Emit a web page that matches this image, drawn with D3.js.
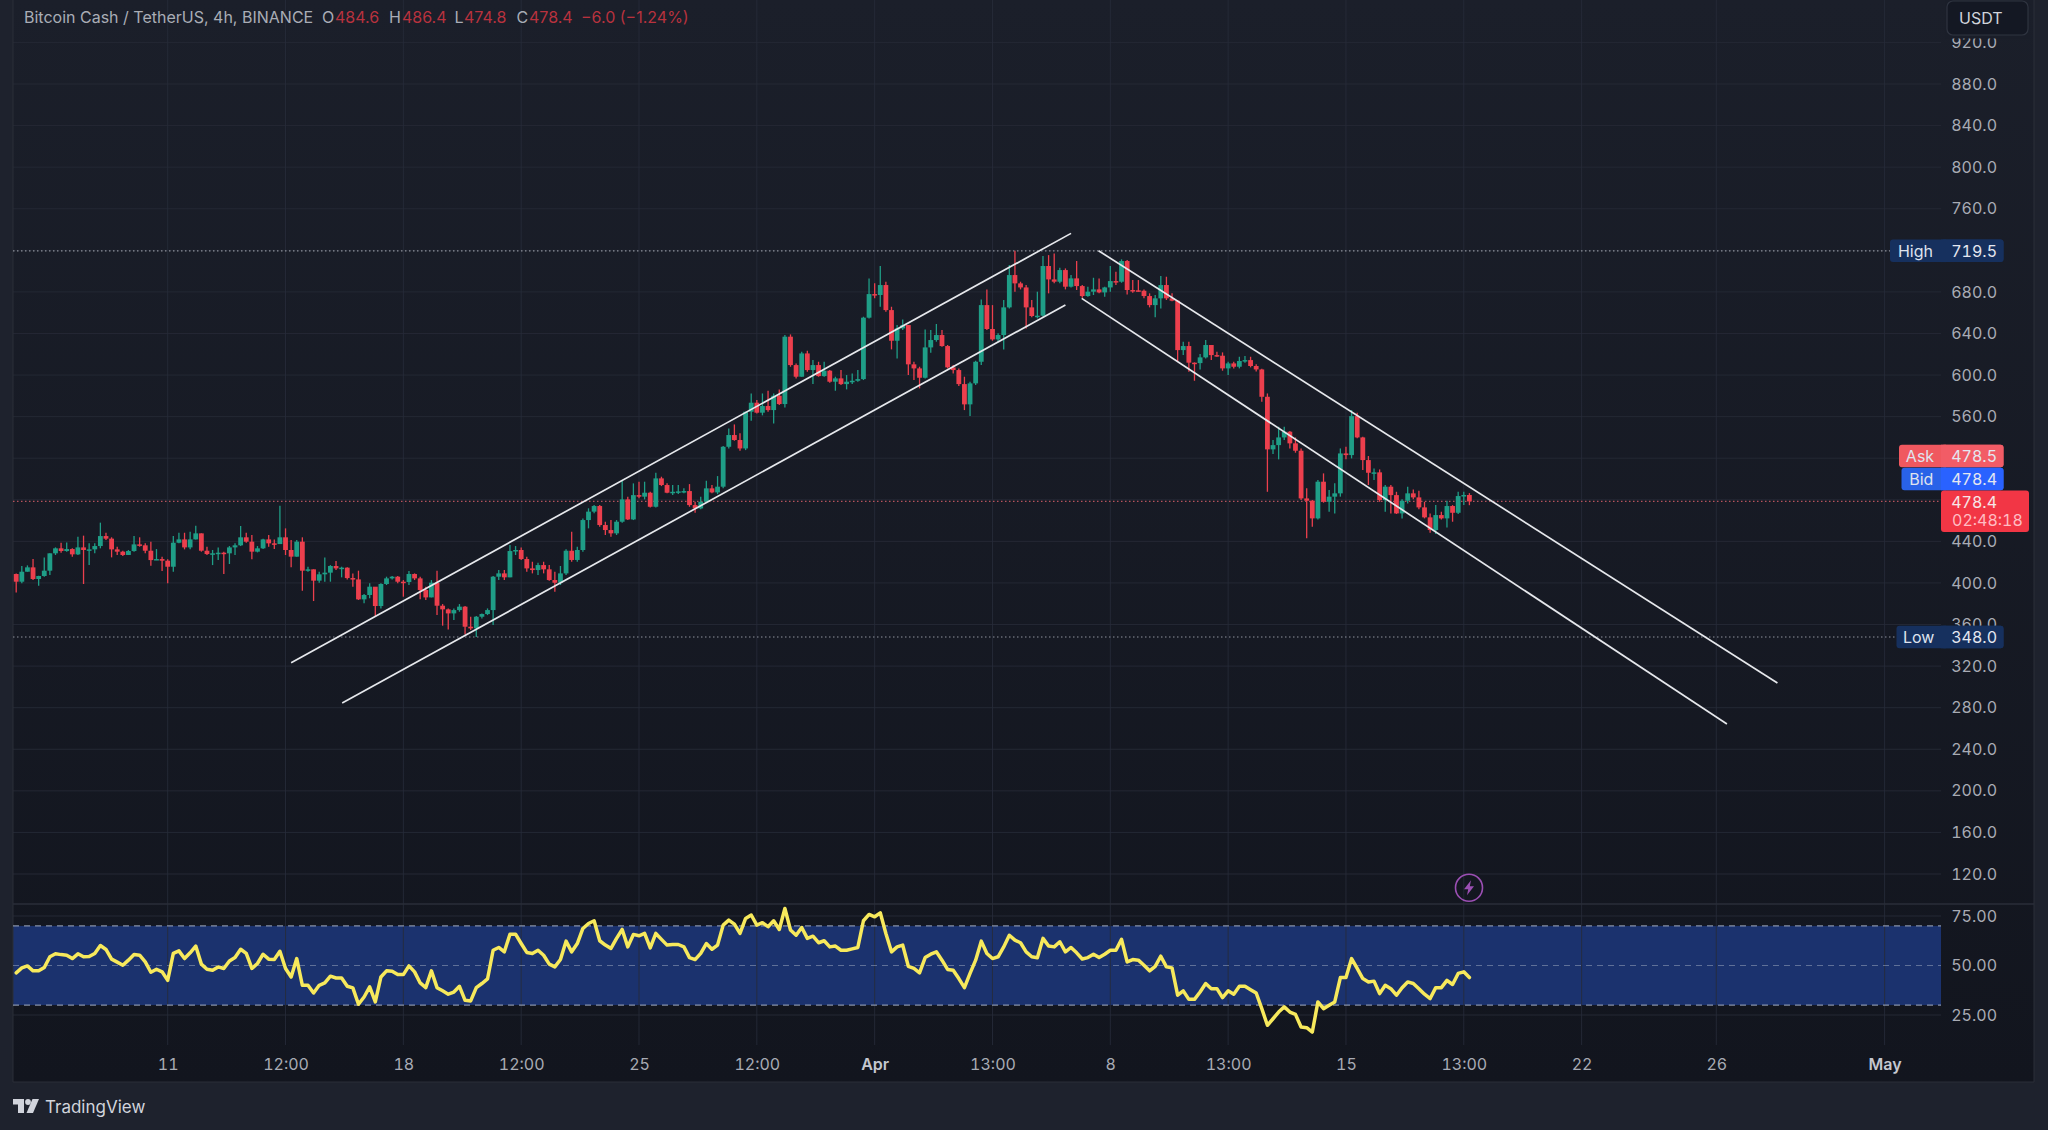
<!DOCTYPE html>
<html>
<head>
<meta charset="utf-8">
<script src="https://cdn.jsdelivr.net/npm/d3@7"></script>
<style>
    html, body { margin: 0; padding: 0; background: #1e222d; }
    svg { display: block; }
    text { font-family: Inter, "Noto Sans", sans-serif; font-variant-numeric: tabular-nums; }
    text.plain { font-variant-numeric: normal; }
</style>
</head>
<body>
<div id="chart"></div>
<script>
// 4h candles, bar 0 opens 2024-03-06 12:00
const firstOpen = 408.6;
const closes = [
    401.2,410.8,415.0,403.8,406.7,411.8,428.5,433.3,430.7,432.6,427.5,434.2,431.7,432.3,435.5,445.1,442.6,432.3,430.1,426.9,
    430.7,437.1,436.2,431.0,422.0,423.0,421.4,415.6,438.7,441.9,434.2,441.9,447.7,431.0,427.8,428.5,429.1,428.5,434.2,436.2,
    443.9,439.7,430.1,433.3,441.9,438.1,437.4,443.9,431.7,425.3,439.7,411.8,413.1,402.2,408.3,409.9,416.3,414.0,414.7,404.7,
    403.4,384.2,388.4,396.4,377.8,399.0,404.4,406.0,401.2,400.9,408.6,404.4,393.2,386.1,400.2,378.1,374.6,370.7,373.9,377.2,
    357.9,356.3,367.5,370.1,373.9,406.0,409.2,405.4,430.7,431.7,423.0,414.0,412.4,417.2,413.1,402.8,400.2,409.2,431.0,422.1,
    431.7,460.5,468.6,474.0,455.7,450.9,447.7,458.9,480.4,461.1,484.5,483.0,486.8,473.3,500.6,494.2,486.8,487.7,488.1,488.4,
    474.9,471.7,478.1,491.0,487.1,492.6,531.0,542.3,537.5,529.4,564.7,573.4,563.8,570.2,566.3,580.1,572.1,636.9,609.6,598.4,
    620.8,604.8,609.6,599.0,604.2,593.6,596.8,591.3,593.6,594.5,596.1,655.2,677.9,677.0,686.6,662.5,633.0,644.9,648.1,610.3,
    606.4,597.4,626.6,633.7,638.5,627.9,607.4,604.8,591.3,571.8,592.0,612.8,667.3,644.3,634.3,638.5,665.1,696.2,688.2,684.3,
    665.1,656.8,657.1,704.9,692.0,689.8,701.0,685.0,693.0,685.6,676.0,680.2,682.4,679.5,684.3,690.4,689.8,709.7,681.8,681.5,
    681.1,676.0,667.3,673.8,686.6,673.8,671.5,624.0,627.9,611.9,611.5,617.0,628.9,619.2,618.6,606.4,611.2,608.0,613.5,614.4,
    608.7,605.4,579.1,528.5,532.6,540.0,545.5,534.3,527.2,481.3,479.1,462.1,497.4,478.1,483.0,486.2,524.6,523.0,560.5,540.0,
    518.2,506.0,506.4,479.7,492.6,484.5,466.9,479.1,486.2,482.3,472.7,463.1,450.9,465.3,462.1,474.0,467.5,483.6,484.6,478.4
];
const highs = [
    409.2,416.3,416.9,423.0,407.0,424.6,428.5,434.2,438.7,439.0,433.3,444.5,445.5,438.1,438.1,458.0,448.3,443.9,434.9,431.0,
    431.7,445.1,443.9,438.1,439.7,432.6,425.3,422.7,445.1,448.3,448.3,449.3,455.1,447.7,434.9,431.7,434.2,430.1,435.5,438.1,
    454.8,448.3,446.1,435.5,442.6,446.1,441.9,474.3,452.5,441.3,441.3,443.9,415.6,413.1,410.8,424.6,417.2,421.1,415.6,415.0,
    409.2,411.8,389.3,399.6,395.8,399.6,406.0,406.7,406.7,402.8,411.5,409.2,406.0,396.4,402.8,411.8,379.7,375.5,375.5,379.7,
    377.8,367.5,368.2,370.7,375.5,406.7,412.4,412.4,436.5,435.5,434.2,425.3,420.4,419.5,420.4,417.2,410.8,416.3,432.3,449.3,
    434.9,462.1,471.8,475.0,475.0,458.9,460.5,460.5,499.0,483.0,495.8,497.4,497.4,487.7,506.0,502.2,495.8,494.2,494.2,491.0,
    495.1,478.1,483.0,498.3,494.2,502.8,531.7,548.7,552.5,543.9,564.7,582.3,575.9,582.3,584.9,582.3,586.2,638.5,639.1,611.2,
    622.4,623.4,614.4,612.8,612.8,604.8,598.4,604.8,600.0,601.6,604.8,656.1,693.0,688.2,704.9,689.8,665.7,648.1,653.5,648.1,
    612.8,608.0,643.9,643.3,649.1,643.3,628.9,609.6,606.4,598.4,593.6,613.8,672.8,682.4,667.3,640.1,672.2,705.8,719.5,689.8,
    686.6,672.2,680.2,714.5,715.4,717.0,703.3,702.6,696.2,709.7,686.6,685.0,693.6,693.0,685.0,704.9,699.4,711.3,710.6,691.4,
    691.4,682.4,678.6,677.0,695.2,694.6,678.6,672.2,632.1,632.1,612.2,620.2,633.7,628.9,622.4,621.8,612.8,612.8,617.6,618.3,
    617.6,610.3,606.1,582.3,537.5,550.3,550.3,546.1,540.0,529.4,491.0,479.7,499.0,505.4,489.4,495.8,529.4,531.0,566.3,563.8,
    540.7,522.1,510.2,509.2,494.2,494.2,487.7,480.4,492.6,490.0,488.7,478.1,466.9,474.9,468.5,479.1,474.9,487.7,487.7,486.4
];
const lows = [
    390.9,399.6,410.8,402.8,397.4,406.0,407.6,426.9,429.1,430.1,425.3,426.9,399.0,417.2,428.5,433.3,441.3,424.6,426.9,425.9,
    426.9,430.1,434.9,428.5,416.6,422.0,411.5,399.6,410.8,438.1,432.3,432.3,441.9,430.1,426.9,417.2,422.0,408.6,418.2,426.9,
    435.5,438.7,422.7,429.4,432.6,434.9,432.6,437.4,426.9,415.0,425.3,392.5,410.8,382.6,400.2,401.2,401.2,412.4,405.4,403.4,
    396.4,383.6,380.4,385.2,368.2,375.5,398.0,403.4,399.6,386.8,398.0,402.8,384.2,383.6,386.1,369.1,358.9,355.3,364.3,372.3,
    350.5,354.7,348.0,365.9,369.1,359.5,402.8,402.8,405.4,426.9,422.1,410.8,409.2,407.6,409.2,402.2,391.6,398.0,407.6,420.4,
    420.4,430.1,452.5,467.0,454.1,446.1,444.5,446.1,457.9,460.5,460.5,481.4,480.4,472.7,472.7,493.2,486.2,484.5,485.5,486.2,
    473.3,467.5,470.8,477.2,486.2,485.5,491.0,529.4,536.8,527.2,527.8,556.1,563.1,561.2,564.7,553.5,571.1,568.9,608.0,596.8,
    598.4,603.2,591.3,598.4,598.4,592.6,584.9,590.4,586.2,591.3,593.6,595.2,654.5,673.8,665.7,660.9,624.7,616.0,643.3,600.0,
    595.2,587.2,596.8,621.5,632.1,627.3,606.4,601.6,589.4,566.3,560.5,590.4,609.6,643.3,633.0,632.1,624.7,664.1,680.2,682.4,
    644.9,655.5,654.5,656.1,678.6,688.2,688.2,682.4,684.3,681.8,674.4,675.4,677.0,678.6,675.4,680.2,686.6,688.8,677.6,679.2,
    680.2,673.8,665.1,655.5,664.1,672.2,670.9,612.8,619.2,603.2,594.5,605.4,616.0,614.4,617.6,604.2,600.0,606.4,606.4,611.9,
    607.4,603.5,574.3,487.7,524.0,518.9,537.5,529.4,525.3,479.7,442.9,454.1,461.1,477.2,468.5,466.9,483.0,518.9,519.8,539.1,
    508.6,494.2,499.0,478.1,468.5,466.9,466.3,462.1,476.5,480.4,470.8,462.1,448.3,447.0,461.1,453.4,458.9,466.3,474.9,474.8
];
const rsiValues = [
    46.3,48.8,49.8,47.3,47.3,49.0,54.4,55.9,55.5,55.2,53.5,55.9,54.4,54.5,56.1,60.1,58.1,53.2,51.7,50.1,
    52.7,55.5,55.2,51.8,46.6,48.1,46.8,42.5,56.1,57.4,53.5,56.4,59.8,50.7,48.1,47.6,49.3,48.5,52.3,54.0,
    58.2,56.1,48.5,51.0,55.7,53.2,53.0,57.2,48.5,44.2,53.5,40.0,40.0,36.1,40.0,41.2,44.6,43.7,43.7,39.5,
    38.7,30.4,34.1,39.2,31.6,44.2,47.3,47.1,45.4,45.4,49.8,46.8,41.2,38.8,47.3,38.8,37.2,35.5,36.6,39.5,
    32.4,32.1,38.8,40.9,43.2,57.7,59.1,56.9,65.8,65.8,61.1,56.6,56.1,57.7,55.2,50.7,49.3,53.0,62.3,56.9,
    61.1,68.7,71.2,72.6,62.5,60.3,58.6,63.7,68.2,59.4,65.7,65.0,66.2,58.9,66.2,63.2,60.3,60.6,60.6,59.4,
    54.0,53.0,56.1,61.1,58.2,60.3,70.4,72.9,70.9,66.2,73.8,75.5,70.4,71.6,69.6,72.6,68.2,78.8,67.9,65.3,
    69.2,63.7,64.8,61.5,62.5,59.4,59.8,57.7,57.7,58.4,59.1,72.6,75.8,74.6,76.6,66.2,56.9,59.4,60.3,49.6,
    48.5,46.3,54.0,55.7,56.9,52.7,48.0,47.6,43.4,38.8,46.0,52.7,62.3,56.1,53.5,54.4,59.4,65.3,62.8,61.5,
    56.9,54.4,53.9,63.7,59.8,59.4,62.0,56.9,59.1,56.4,53.3,54.0,55.7,54.0,55.7,57.7,57.7,63.2,51.8,53.0,
    52.7,50.1,47.3,49.6,54.7,49.3,48.8,35.0,37.2,32.9,32.9,36.6,40.9,38.3,38.3,33.8,37.2,35.5,39.5,39.5,
    37.8,36.1,28.2,19.8,23.1,26.5,29.1,26.5,25.3,18.9,18.6,16.4,31.6,28.2,29.9,31.6,43.9,43.9,53.5,48.5,
    43.4,41.7,42.1,35.8,40.0,38.3,35.0,38.8,41.7,40.9,38.3,35.5,33.3,38.8,38.8,42.5,40.4,46.0,46.8,43.9
];

const priceTicks = d3.range(120, 921, 40);
const rsiTicks = [25, 50, 75];
const rsiBand = [30, 70];
const timeTicks = ["2024-03-11", "2024-03-14T12:00", "2024-03-18", "2024-03-21T12:00", "2024-03-25", "2024-03-28T12:00",
    "2024-04-01", "2024-04-04T12:00", "2024-04-08", "2024-04-11T12:00", "2024-04-15", "2024-04-18T12:00",
    "2024-04-22", "2024-04-26", "2024-05-01"];
const timeLabels = ["11", "12:00", "18", "12:00", "25", "12:00", "Apr", "13:00", "8", "13:00", "15", "13:00", "22", "26", "May"];
const boldLabels = ["Apr", "May"];

// [bar index, price] at both ends of each drawn channel line
const channels = [
    [[49, 323.3], [188, 736.3]],
    [[58.1, 284.5], [187, 667.4]],
    [[192.9, 719.6], [313.9, 303.7]],
    [[189.9, 673.8], [304.9, 264.3]]
];

const highPrice = 719.5, lowPrice = 348.0, askPrice = 478.5, bidPrice = 478.4, lastPrice = 478.4;
const countdown = "02:48:18";

const up = "#1f9e87", down = "#ec3f4d";
const left = 13, plotRight = 1941, right = 2034, chartBottom = 1082, axisTop = 1045, paneSep = 904;
const labelSize = 16;

const parseTime = d3.utcParse("%Y-%m-%dT%H:%M");
const toDate = s => parseTime(s.length === 10 ? s + "T00:00" : s);
const barStart = toDate("2024-03-06T12:00");
const barTime = i => new Date(+barStart + i * 4 * 3600 * 1000);

let x = d3.scaleUtc().domain([toDate("2024-03-11"), toDate("2024-05-01")]).range([167.7, 1884.6]);
let y = d3.scaleLinear().domain([120, 880]).range([874, 84]);
let yRsi = d3.scaleLinear().domain([25, 75]).range([1015, 916]);

let svg = d3.select("#chart").append("svg").attr("width", 2048).attr("height", 1130);
svg.append("rect").attr("width", 2048).attr("height", 1130).attr("fill", "#1e222d");

let defs = svg.append("defs");
let grad = defs.append("linearGradient").attr("id", "bg").attr("x1", 0).attr("x2", 0).attr("y1", 0).attr("y2", 1);
grad.append("stop").attr("offset", 0).attr("stop-color", "#1b1f2a");
grad.append("stop").attr("offset", 1).attr("stop-color", "#12151e");
svg.append("rect").attr("x", left).attr("y", 0).attr("width", right - left).attr("height", chartBottom).attr("fill", "url(#bg)");

// grid
svg.append("g").selectAll("line").data(priceTicks).enter().append("line")
    .attr("x1", left).attr("x2", plotRight)
    .attr("y1", d => y(d)).attr("y2", d => y(d))
    .attr("stroke", "#242834");
svg.append("g").selectAll("line").data(rsiTicks.filter(d => d !== 50)).enter().append("line")
    .attr("x1", left).attr("x2", plotRight)
    .attr("y1", d => yRsi(d)).attr("y2", d => yRsi(d))
    .attr("stroke", "#242834");

// rsi band, under the vertical grid
svg.append("rect")
    .attr("x", left).attr("width", plotRight - left)
    .attr("y", yRsi(rsiBand[1])).attr("height", yRsi(rsiBand[0]) - yRsi(rsiBand[1]))
    .attr("fill", "#1b326e");

svg.append("g").selectAll("line").data(timeTicks).enter().append("line")
    .attr("x1", d => x(toDate(d))).attr("x2", d => x(toDate(d)))
    .attr("y1", 0).attr("y2", axisTop)
    .attr("stroke", "#272c39").attr("stroke-opacity", 0.85);
svg.append("line").attr("x1", left).attr("x2", left).attr("y1", 0).attr("y2", chartBottom).attr("stroke", "#2a2e39");
svg.append("line").attr("x1", right).attr("x2", right).attr("y1", 0).attr("y2", chartBottom).attr("stroke", "#2a2e39");
svg.append("line").attr("x1", left).attr("x2", right).attr("y1", paneSep).attr("y2", paneSep).attr("stroke", "#2a2e39").attr("stroke-width", 1.5);
svg.append("line").attr("x1", left).attr("x2", right).attr("y1", chartBottom).attr("y2", chartBottom).attr("stroke", "#2a2e39");

// rsi levels
[[70, 0.8], [50, 0.5], [30, 0.8]].forEach(function (l) {
    svg.append("line")
        .attr("x1", left).attr("x2", plotRight)
        .attr("y1", yRsi(l[0])).attr("y2", yRsi(l[0]))
        .attr("stroke", "#a3adc2").attr("stroke-opacity", l[1])
        .attr("stroke-width", l[0] === 50 ? 1 : 1.3)
        .attr("stroke-dasharray", "6 5");
});

// high, low and last price lines
[[highPrice, "#8d919b", 1890], [lowPrice, "#8d919b", 1896]].forEach(function (l) {
    svg.append("line")
        .attr("x1", left).attr("x2", l[2])
        .attr("y1", y(l[0])).attr("y2", y(l[0]))
        .attr("stroke", l[1]).attr("stroke-dasharray", "1.5 2.5").attr("stroke-width", 1.2);
});
svg.append("line")
    .attr("x1", left).attr("x2", 1941)
    .attr("y1", y(lastPrice)).attr("y2", y(lastPrice))
    .attr("stroke", "#b5525c").attr("stroke-dasharray", "1.5 2.5").attr("stroke-width", 1.2);

// candles
let candles = svg.append("g").selectAll("g").data(closes).enter().append("g")
    .attr("fill", (d, i) => d >= (i ? closes[i - 1] : firstOpen) ? up : down)
    .attr("stroke", (d, i) => d >= (i ? closes[i - 1] : firstOpen) ? up : down);
candles.append("line")
    .attr("x1", (d, i) => x(barTime(i))).attr("x2", (d, i) => x(barTime(i)))
    .attr("y1", (d, i) => y(highs[i])).attr("y2", (d, i) => y(lows[i]))
    .attr("stroke-width", 1.3);
candles.append("rect")
    .attr("x", (d, i) => x(barTime(i)) - 2.4)
    .attr("width", 4.8)
    .attr("y", (d, i) => y(Math.max(d, i ? closes[i - 1] : firstOpen)))
    .attr("height", (d, i) => Math.max(1.5, Math.abs(y(d) - y(i ? closes[i - 1] : firstOpen))))
    .attr("stroke", "none");

// channel lines
svg.append("g").selectAll("line").data(channels).enter().append("line")
    .attr("x1", d => x(barTime(d[0][0]))).attr("y1", d => y(d[0][1]))
    .attr("x2", d => x(barTime(d[1][0]))).attr("y2", d => y(d[1][1]))
    .attr("stroke", "#e6e8ec").attr("stroke-width", 1.7);

// rsi
let rsiLine = d3.line().x((d, i) => x(barTime(i))).y(d => yRsi(d));
svg.append("path").datum(rsiValues)
    .attr("d", rsiLine)
    .attr("fill", "none").attr("stroke", "#f7e95c").attr("stroke-width", 3.5)
    .attr("stroke-linejoin", "round").attr("stroke-linecap", "round");

// axes
let priceAxis = svg.append("g").attr("transform", "translate(1997,0)")
    .call(d3.axisLeft(y).tickValues(priceTicks).tickSize(0).tickFormat(d3.format(".1f")));
let rsiAxis = svg.append("g").attr("transform", "translate(1997,0)")
    .call(d3.axisLeft(yRsi).tickValues(rsiTicks).tickSize(0).tickFormat(d3.format(".2f")));
let timeAxis = svg.append("g").attr("transform", "translate(0,1055)")
    .call(d3.axisBottom(x).tickValues(timeTicks.map(toDate)).tickSize(0).tickFormat((d, i) => timeLabels[i]));
[priceAxis, rsiAxis, timeAxis].forEach(function (a) {
    a.select(".domain").remove();
    a.selectAll("text")
        .attr("x", 0)
        .style("font-family", "Inter, sans-serif").style("font-size", labelSize + "px").attr("fill", "#a8abb4");
});
timeAxis.selectAll("text").attr("y", 4)
    .style("font-weight", (d, i) => boldLabels.includes(timeLabels[i]) ? 600 : 400)
    .attr("fill", (d, i) => boldLabels.includes(timeLabels[i]) ? "#c4c7cf" : "#a8abb4");

// price labels on the scale
function priceLabel(name, value, cy, boxLeft, fillLeft, fillRight) {
    let h = 22.5;
    svg.append("rect").attr("x", boxLeft).attr("y", cy - h / 2).attr("width", 2003.5 - boxLeft).attr("height", h).attr("rx", 3).attr("fill", fillLeft);
    svg.append("rect").attr("x", 1941).attr("y", cy - h / 2).attr("width", 62.5).attr("height", h).attr("rx", 3).attr("fill", fillRight);
    svg.append("rect").attr("x", 1941).attr("y", cy - h / 2).attr("width", 5).attr("height", h).attr("fill", fillRight);
    svg.append("text").attr("x", (boxLeft + 1941) / 2).attr("y", cy).attr("dy", "0.36em").attr("text-anchor", "middle")
        .attr("font-size", labelSize).attr("fill", "#dfe3ee").text(name);
    svg.append("text").attr("x", 1997).attr("y", cy).attr("dy", "0.36em").attr("text-anchor", "end")
        .attr("font-size", labelSize).attr("fill", "#e4e7f0").text(value.toFixed(1));
}
priceLabel("High", highPrice, y(highPrice), 1890, "#16305e", "#16305e");
priceLabel("Low", lowPrice, y(lowPrice), 1896.5, "#16305e", "#16305e");
priceLabel("Ask", askPrice, 456, 1899, "#f0585f", "#f25c66");
priceLabel("Bid", bidPrice, 479, 1901.5, "#2962e8", "#2962ff");

svg.append("rect").attr("x", 1941).attr("y", 490.5).attr("width", 88).attr("height", 41.5).attr("rx", 3).attr("fill", "#f23645");
svg.append("text").attr("x", 1997).attr("y", 502).attr("dy", "0.36em").attr("text-anchor", "end")
    .attr("font-size", labelSize).attr("fill", "#f6e6e8").text(lastPrice.toFixed(1));
svg.append("text").attr("x", 1952).attr("y", 520).attr("dy", "0.36em")
    .attr("font-size", labelSize).attr("fill", "#ffbcc2").text(countdown);

// currency button, the strip under it cuts off the top scale label
svg.append("rect").attr("x", 1945).attr("y", 0).attr("width", 85).attr("height", 38.5).attr("fill", "#1a1e29");
svg.append("rect").attr("x", 1947).attr("y", 1).attr("width", 81).attr("height", 34).attr("rx", 6)
    .attr("fill", "#141823").attr("stroke", "#2f3440").attr("stroke-width", 1.2);
svg.append("text").attr("x", 1959).attr("y", 18).attr("dy", "0.36em").attr("font-size", labelSize).attr("fill", "#d1d4dc").text("USDT");

// header
let header = svg.append("text").attr("class", "plain").attr("y", 17).attr("dy", "0.36em").attr("font-size", 16);
[[24, "Bitcoin Cash / TetherUS, 4h, BINANCE", "#a9adb6"], [322, "O", "#a9adb6"], [335, "484.6", "#b8323e"], [389, "H", "#a9adb6"], [402, "486.4", "#b8323e"],
    [454.5, "L", "#a9adb6"], [464, "474.8", "#b8323e"], [516.5, "C", "#a9adb6"], [529, "478.4", "#b8323e"], [581, "\u22126.0 (\u22121.24%)", "#b8323e"]].forEach(function (t) {
    header.append("tspan").attr("x", t[0]).attr("fill", t[2]).text(t[1]);
});

// bolt marker
let bolt = svg.append("g").attr("transform", "translate(1469,887.7)");
bolt.append("circle").attr("r", 13.5).attr("fill", "none").attr("stroke", "#9b4fb3").attr("stroke-width", 1.6);
bolt.append("path").attr("d", "M2,-7.5 L-5,1.5 L-0.8,1.5 L-2,7.5 L5,-1.5 L0.8,-1.5 Z").attr("fill", "#9b4fb3");

// footer logo
let logo = svg.append("g").attr("transform", "translate(13,1099)").attr("fill", "#d1d4dc");
logo.append("path").attr("d", "M0,0 H11 V14 H5 V5.5 H0 Z");
logo.append("circle").attr("cx", 15).attr("cy", 3).attr("r", 2.9);
logo.append("path").attr("d", "M19.5,0 H26 L20,14 H13.5 Z");
svg.append("text").attr("x", 45).attr("y", 1107).attr("dy", "0.36em").attr("font-size", 17).attr("fill", "#d1d4dc").text("TradingView");
</script>
</body>
</html>
